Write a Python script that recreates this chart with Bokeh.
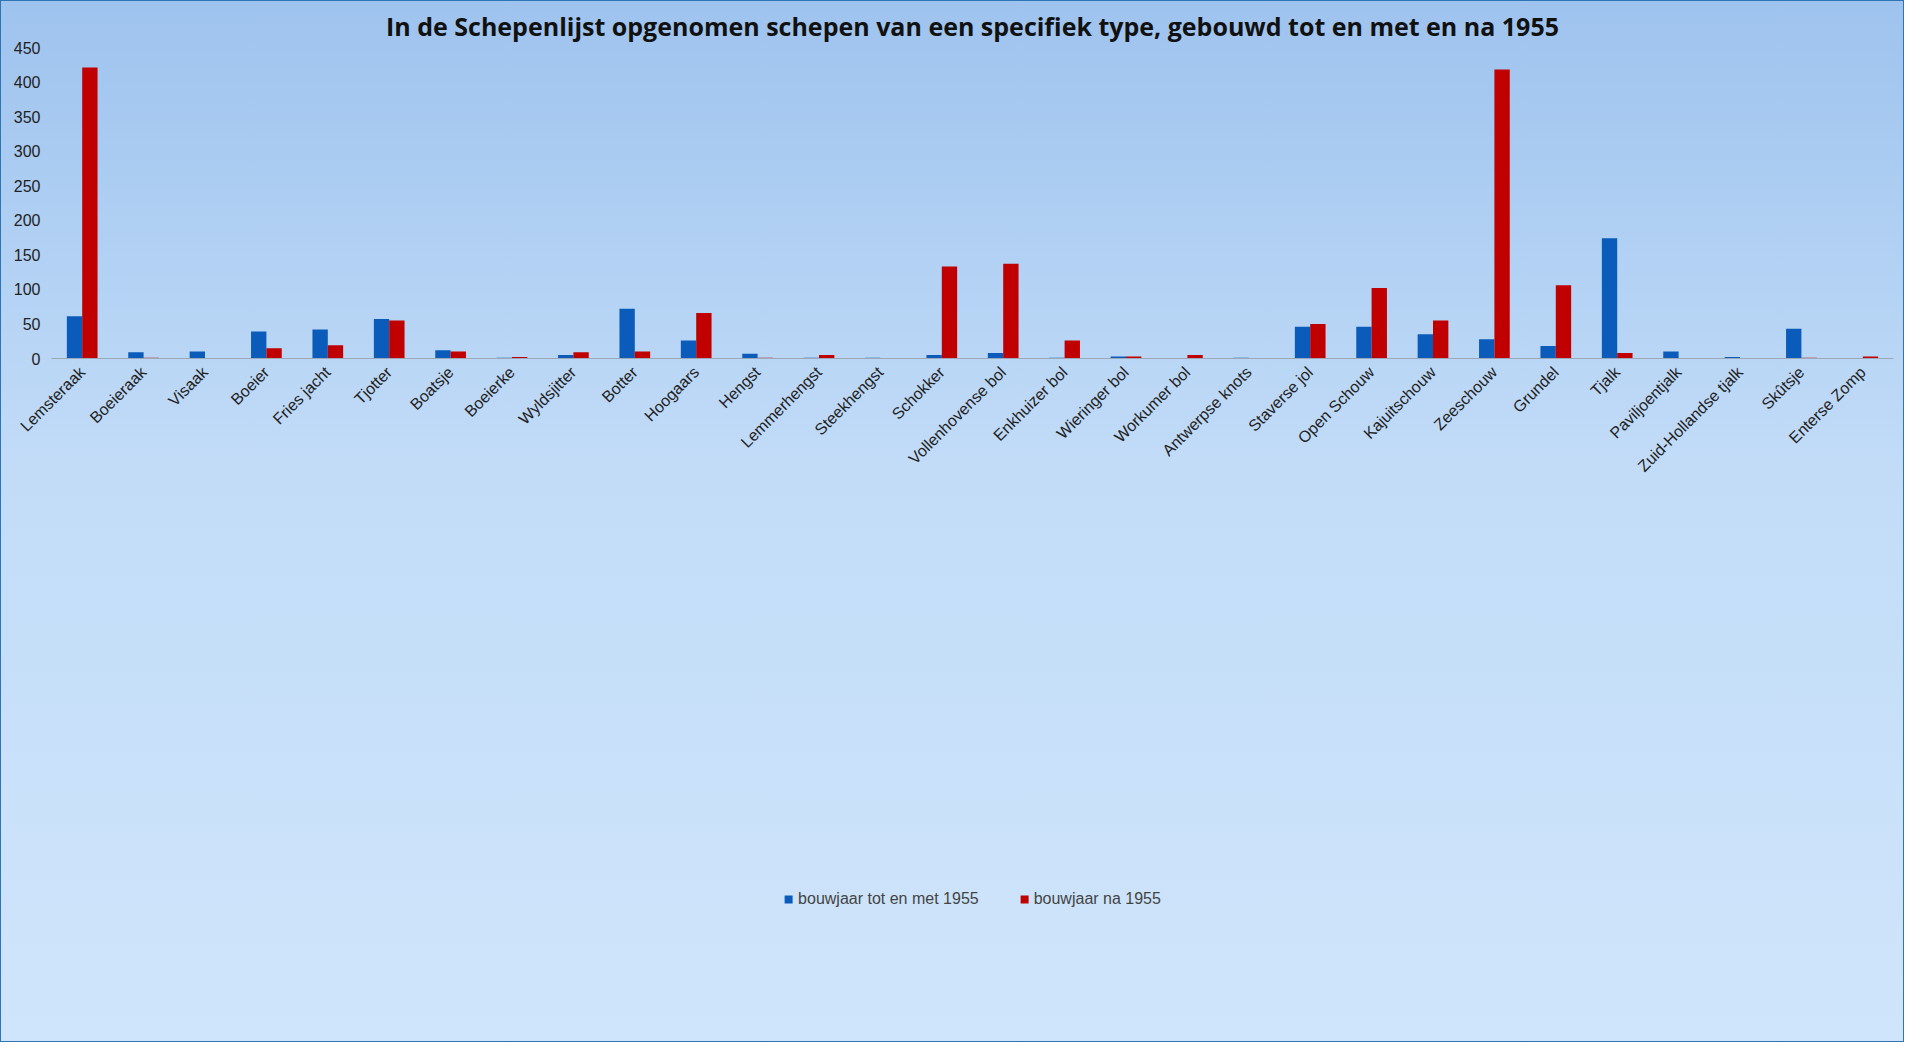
from bokeh.plotting import figure
from bokeh.models import ColumnDataSource, Legend, LegendItem, FactorRange, SingleIntervalTicker
from bokeh.transform import dodge
from bokeh.embed import file_html
from bokeh.resources import INLINE

categories = ["Lemsteraak","Boeieraak","Visaak","Boeier","Fries jacht","Tjotter","Boatsje","Boeierke",
              "Wyldsjitter","Botter","Hoogaars","Hengst","Lemmerhengst","Steekhengst","Schokker",
              "Vollenhovense bol","Enkhuizer bol","Wieringer bol","Workumer bol","Antwerpse knots",
              "Staverse jol","Open Schouw","Kajuitschouw","Zeeschouw","Grundel","Tjalk","Paviljoentjalk",
              "Zuid-Hollandse tjalk","Skûtsje","Enterse Zomp"]
tot_1955 = [61,9,10,39,42,57,12,1,5,72,26,7,1,1,5,8,1,3,0,1,46,46,35,28,18,174,10,2,43,0]
na_1955 = [421,1,0,15,19,55,10,2,9,10,66,1,5,0,133,137,26,3,5,0,50,102,55,418,106,8,0,0,1,3]

src = ColumnDataSource(dict(cat=categories, a=tot_1955, b=na_1955))
font = "Liberation Sans"
p = figure(width=1904, height=1042, x_range=FactorRange(*categories), y_range=(0, 450),
           output_backend="svg", toolbar_location=None,
           title="In de Schepenlijst opgenomen schepen van een specifiek type, gebouwd tot en met en na 1955")
p.styles = {"background": "linear-gradient(to bottom, #9ec3ee 0%, #c2dcf8 45%, #cfe5fb 100%)",
            "border": "1px solid #2E75B6", "box-sizing": "border-box"}
p.background_fill_alpha = 0
p.border_fill_alpha = 0
p.outline_line_color = None
p.min_border_left = 50
p.min_border_right = 12
p.min_border_top = 12
p.min_border_bottom = 150

p.title.align = "center"
p.title.text_font = "Open Sans"
p.title.text_font_style = "bold"
p.title.text_font_size = "25px"
p.title.text_color = "#111111"
p.title.offset = -2

r1 = p.vbar(x=dodge("cat", -0.125, range=p.x_range), top="a", width=0.25, source=src,
            color="#0B5BBA", line_color=None)
r2 = p.vbar(x=dodge("cat", 0.125, range=p.x_range), top="b", width=0.25, source=src,
            color="#C00000", line_color=None)

p.xgrid.grid_line_color = None
p.ygrid.grid_line_color = None
p.yaxis.ticker = SingleIntervalTicker(interval=50)
p.yaxis.axis_line_color = None
p.yaxis.major_tick_line_color = None
p.yaxis.minor_tick_line_color = None
p.xaxis.axis_line_color = "#9aa8b8"
p.xaxis.major_tick_line_color = None
p.xaxis.major_label_orientation = 0.785
for ax in (p.xaxis, p.yaxis):
    ax.major_label_text_font = font
    ax.major_label_text_font_size = "16px"
    ax.major_label_text_color = "#222222"
p.x_range.range_padding = 0

legend = Legend(items=[LegendItem(label="bouwjaar tot en met 1955", renderers=[r1]),
                       LegendItem(label="bouwjaar na 1955", renderers=[r2])],
                orientation="horizontal", location="center",
                background_fill_alpha=0, border_line_color=None,
                label_text_font=font, label_text_font_size="16px",
                glyph_width=10, glyph_height=10, spacing=40, margin=30)
p.add_layout(legend, "below")

open("out.html", "w").write(file_html(p, INLINE))
